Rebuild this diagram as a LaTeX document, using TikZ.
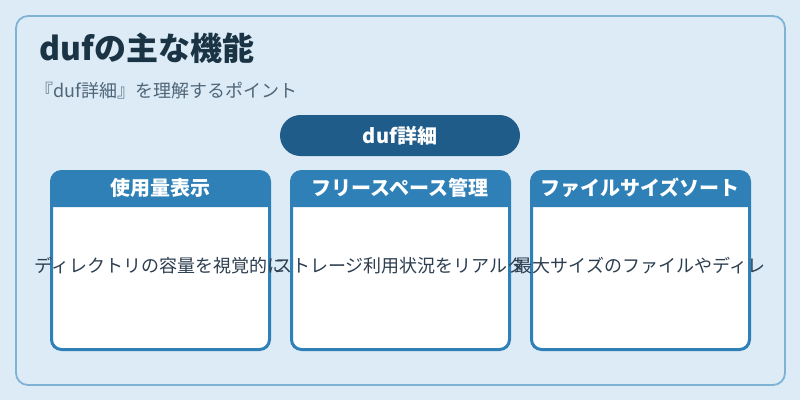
\documentclass[tikz,border=0pt]{standalone}
\usepackage{fontspec}
\setmainfont{Noto Sans CJK JP}
\definecolor{bg}{HTML}{DCEBF6}
\definecolor{frame}{HTML}{7FB3D5}
\definecolor{titlec}{HTML}{1B3445}
\definecolor{subc}{HTML}{4F6678}
\definecolor{pill}{HTML}{1F5C8A}
\definecolor{hdr}{HTML}{2E80B6}
\definecolor{bodyc}{HTML}{2C3E50}
\tikzset{
  cardbox/.style={rectangle, minimum width=218pt, minimum height=178pt, inner sep=0pt, outer sep=0pt, fill=white},
  cardedge/.style={draw=hdr, line width=3pt, rounded corners=10pt},
  hdrtxt/.style={anchor=base, inner sep=0pt, text=white, font=\fontsize{20}{24}\selectfont\bfseries},
  bodytxt/.style={anchor=base, inner sep=0pt, text=bodyc, font=\fontsize{18}{21}\selectfont},
}
\begin{document}
\begin{tikzpicture}[x=1pt, y=-1pt]
\useasboundingbox (0,0) rectangle (800,400);
\fill[bg] (0,0) rectangle (800,400);
\draw[frame, line width=1.8pt, rounded corners=12pt] (16,16) rectangle (785,385);
\node[anchor=base west, inner sep=0pt, text=titlec, font=\fontsize{32}{38}\selectfont\bfseries] (title) at (39.5,60) {dufの主な機能};
\node[anchor=base west, inner sep=0pt, text=subc, font=\fontsize{18}{21}\selectfont] (sub) at (35,97.5) {『duf詳細』を理解するポイント};
\node[rectangle, rounded corners=20.5pt, fill=pill, minimum width=240pt, minimum height=41pt, inner sep=0pt] (pillnode) at (400,135.5) {};
\node[hdrtxt] (pilltxt) at (400,143.2) {duf詳細};
\foreach \i/\cx/\head in {1/160/使用量表示, 2/400/フリースペース管理, 3/640/ファイルサイズソート} {
  \node[cardbox, rounded corners=10pt] (card\i) at (\cx+0.5,260.5) {};
  \fill[hdr] (card\i.west |- 0,207) [rounded corners=10pt] -- (card\i.north west) -- (card\i.north east) [sharp corners] -- (card\i.east |- 0,207) -- cycle;
  \draw[cardedge] (card\i.north west) rectangle (card\i.south east);
  \node[hdrtxt] (head\i) at (\cx,195.6) {\head};
}
\node[bodytxt] (body1) at (160,272.8) {ディレクトリの容量を視覚的に};
\node[bodytxt] (body2) at (400,272.8) {ストレージ利用状況をリアルタ};
\node[bodytxt] (body3) at (640,272.8) {最大サイズのファイルやディレ};
\end{tikzpicture}
\end{document}
